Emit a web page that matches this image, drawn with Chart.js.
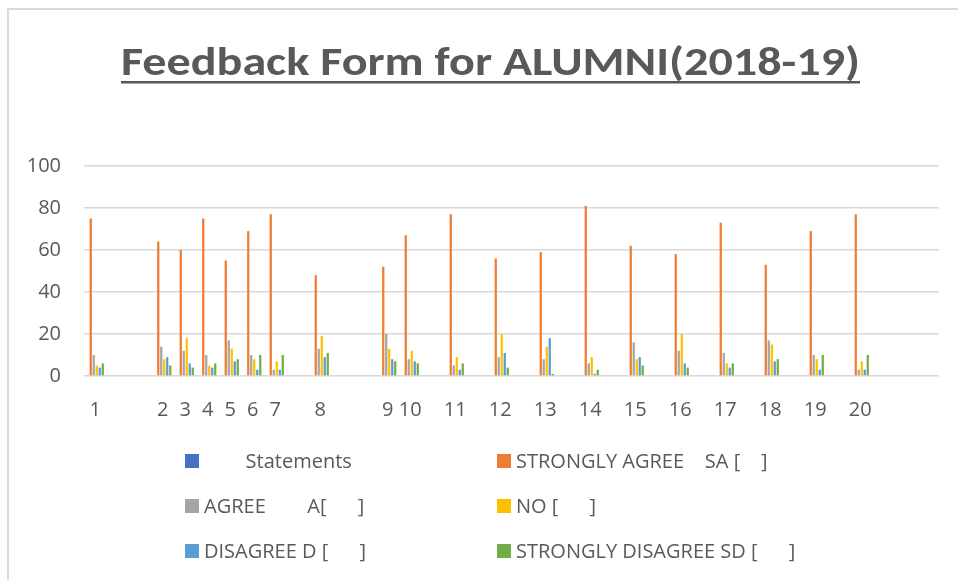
<!DOCTYPE html>
<html>
<head>
<meta charset="utf-8">
<title>Feedback Form for ALUMNI(2018-19)</title>
<script src="https://cdn.jsdelivr.net/npm/chart.js@4.4.1/dist/chart.umd.min.js"></script>
<style>
    html, body { margin: 0; padding: 0; background: #fff; overflow: hidden; }
    #wrap { position: relative; width: 958px; height: 580px; overflow: hidden; }
    #frame {
        position: absolute; left: 7px; top: 8px; width: 1000px; height: 1000px;
        border-left: 2px solid #d9d9d9; border-top: 2px solid #d9d9d9;
    }
    #feedbackChart { position: absolute; left: 0; top: 0; }
    #legend {
        position: absolute; left: 185px; top: 438px;
        display: grid; grid-template-columns: 312px 312px; grid-auto-rows: 45px;
        font-family: 'Open Sans', sans-serif; font-size: 20px; color: #595959;
    }
    .legend-item { display: flex; align-items: center; white-space: pre; }
    .legend-box { width: 14px; height: 14px; margin-right: 5px; flex: none; }
</style>
</head>
<body>
<div id="wrap">
    <div id="frame"></div>
    <canvas id="feedbackChart" width="958" height="580"></canvas>
    <div id="legend"></div>
</div>
<script>
// blank rows of the sheet show up as empty categories
const categories = ['1', '', '', '2', '3', '4', '5', '6', '7', '', '8', '', '', '9', '10', '', '11', '', '12', '',
    '13', '', '14', '', '15', '', '16', '', '17', '', '18', '', '19', '', '20', '', '', ''];
const yTicks = [0, 20, 40, 60, 80, 100];

const seriesNames = ['        Statements', 'STRONGLY AGREE    SA [    ]', 'AGREE        A[      ]', 'NO [      ]',
    'DISAGREE D [      ]', 'STRONGLY DISAGREE SD [      ]'];
const seriesColors = ['#4472C4', '#ED7D31', '#A5A5A5', '#FFC000', '#5B9BD5', '#70AD47'];

// one value per statement 1..20
const statements = [];
const stronglyAgree = [75, 64, 60, 75, 55, 69, 77, 48, 52, 67, 77, 56, 59, 81, 62, 58, 73, 53, 69, 77];
const agree = [10, 14, 12, 10, 17, 10, 3, 13, 20, 8, 5, 9, 8, 6, 16, 12, 11, 17, 10, 3];
const noOpinion = [5, 8, 18, 5, 13, 8, 7, 19, 13, 12, 9, 20, 14, 9, 8, 20, 6, 15, 8, 7];
const disagree = [4, 9, 6, 4, 7, 3, 3, 9, 8, 7, 3, 11, 18, 1, 9, 6, 4, 7, 3, 3];
const stronglyDisagree = [6, 5, 4, 6, 8, 10, 10, 11, 7, 6, 6, 4, 1, 3, 5, 4, 6, 8, 10, 10];

const seriesValues = [statements, stronglyAgree, agree, noOpinion, disagree, stronglyDisagree];

function spread(values) {
    let i = 0;
    return categories.map(c => {
        if (c === '') return null;
        const v = values[i++];
        return v === undefined ? null : v;
    });
}

const textColor = '#595959';
const gridColor = '#d9d9d9';

const underlinedTitle = {
    id: 'underlinedTitle',
    afterDraw(chart, args, opts) {
        const { ctx } = chart;
        ctx.save();
        ctx.font = 'bold 41px Carlito, "Open Sans", sans-serif';
        const w = ctx.measureText(opts.text).width;
        const sx = (opts.right - opts.left) / w;
        ctx.fillStyle = opts.color;
        ctx.textBaseline = 'alphabetic';
        ctx.translate(opts.left, opts.baseline);
        ctx.scale(sx, 1);
        ctx.fillText(opts.text, 0, 0);
        ctx.restore();

        ctx.save();
        ctx.fillStyle = opts.color;
        ctx.fillRect(opts.left, opts.baseline + 6.5, opts.right - opts.left, 2.5);
        ctx.restore();
    }
};

const ctx = document.getElementById('feedbackChart').getContext('2d');
const chart = new Chart(ctx, {
    type: 'bar',
    data: {
        labels: categories,
        datasets: seriesNames.map((name, i) => ({
            label: name,
            data: spread(seriesValues[i]),
            backgroundColor: seriesColors[i],
            borderWidth: 0,
            categoryPercentage: 0.8,
            barPercentage: 0.75
        }))
    },
    options: {
        responsive: false,
        animation: false,
        layout: {
            padding: { top: 166, right: 19, bottom: 150, left: 0 }
        },
        plugins: {
            legend: { display: false },
            tooltip: { enabled: false },
            underlinedTitle: {
                text: 'Feedback Form for ALUMNI(2018-19)',
                color: textColor,
                left: 121,
                right: 860,
                baseline: 74.5
            }
        },
        scales: {
            x: {
                grid: { display: false },
                border: { display: false },
                ticks: {
                    color: textColor,
                    font: { family: 'Open Sans', size: 20 },
                    autoSkip: false,
                    maxRotation: 0,
                    padding: 14
                },
                afterFit(scale) { scale.height = 54; }
            },
            y: {
                min: 0,
                max: 100,
                grid: { color: gridColor, lineWidth: 1.5, drawTicks: false },
                border: { display: false },
                afterBuildTicks(scale) { scale.ticks = yTicks.map(v => ({ value: v })); },
                ticks: {
                    color: textColor,
                    font: { family: 'Open Sans', size: 20 },
                    padding: 23
                },
                afterFit(scale) { scale.width = 84; }
            }
        }
    },
    plugins: [underlinedTitle]
});

// legend laid out in two columns like the spreadsheet chart
const legendEl = document.getElementById('legend');
chart.data.datasets.forEach(ds => {
    const item = document.createElement('div');
    item.className = 'legend-item';
    const box = document.createElement('span');
    box.className = 'legend-box';
    box.style.background = ds.backgroundColor;
    const label = document.createElement('span');
    label.textContent = ds.label;
    item.appendChild(box);
    item.appendChild(label);
    legendEl.appendChild(item);
});
</script>
</body>
</html>
